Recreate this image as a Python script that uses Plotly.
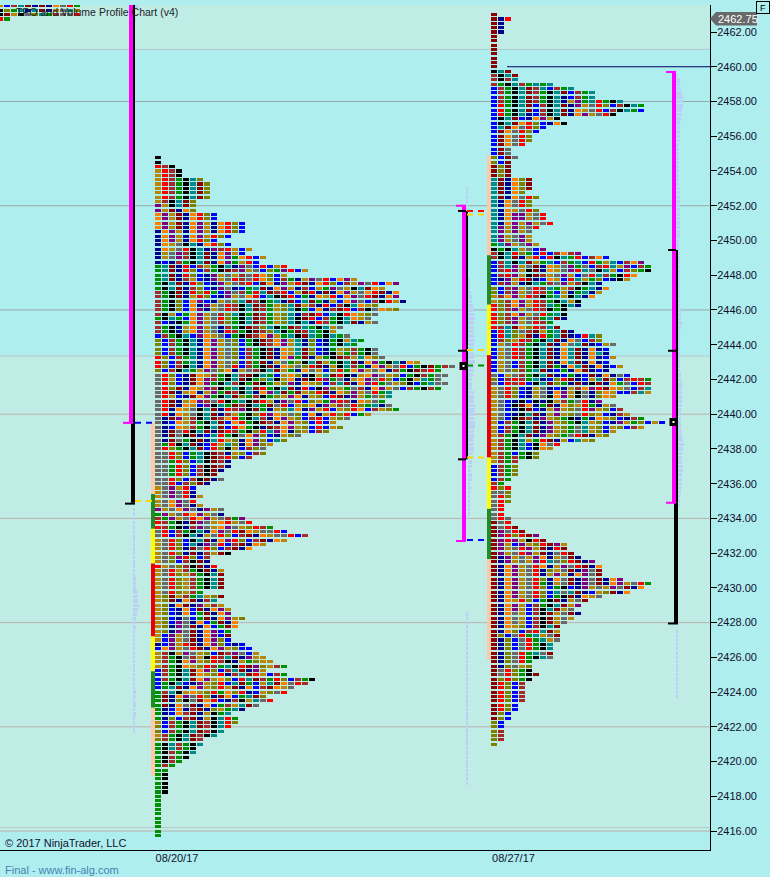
import plotly.graph_objects as go

PALETTE = {"K": "#000000", "R": "#FF0000", "B": "#0000FF", "N": "#00008B", "D": "#8B0000",
           "A": "#A52A2A", "G": "#008F00", "T": "#008B8B", "O": "#B8860B", "L": "#808000",
           "P": "#800080", "Y": "#696969", "F": "#FF8000"}

# ---- profile of 08/20/17: cells per price row, from 2454.75 downwards in 0.25 steps
P1_TOP = 2454.75
P1_COUNTS = [1,1,3,4,4,7,8,8,8,8,6,6,6,9,9,13,13,13,11,9,11,14,13,16,15,19,22,19,29,35,33,35,35,36,32,35,32,31,32,27,26,28,30,29,32,32,33,38,43,41,42,41,42,41,34,34,33,34,35,31,28,26,27,25,21,19,17,16,16,14,11,11,10,9,10,8,6,
             6,7,6,7,10,10,13,14,17,19,22,19,16,14,11,8,8,9,10,10,10,10,10,7,10,9,10,11,11,13,12,12,11,11,11,13,14,15,16,17,19,16,19,23,22,20,19,16,17,15,13,11,12,12,11,10,9,7,7,6,6,5,4,3,2,2,2,2,2,2,1,1,1,1,1,1,1,1,1,1]
P1_ROWS = """K|K|RAK|ORAK|ORAK|ORAGKTL|ORAGKTDL|ORAGKTDL|ORAGKTDL|ORAGKTDL|OAKTDL|POKTDL|PODNFL|FPODNFRLB|FPODNFRLB
FPODNFPONFRLB|FPODNFPONFRLB|NFPONFPONFRLB|NFPONFPORLB|NFPONFRLB|NFOYKTNFRLB|NFOYRKTNPAROBO|NOYPAKTDNFPOB
NOYPAKTDNFPGFRBO|NBNAGKTDNFPGORB|GTDNRBAOGKTNPYBRBOR|GTDNRLBAGKDAPOYBLGPRBO|GTDNRLBNPOYOAYRFLBO
GTDNAOBNPOYRAYRFLBAGNOPYRBFPO|GKTDNRLBNPOYARBDFNPORDNFRLBAOPYRBFPOYNOL|GKTDNALBNPYNBGTDNFPONABOGPYOKTDFO
AGKDNRLRGBPYAGRTDARBODRNDNFPOYFRDNFOYLYL|AGKDNORLBNPOYFRBTKDRBGNFORBFPYRDNFPOYRFO|AGKLBFPBNOYLTDAKGTNDBTDGNOBFPYBAKRONFPOYO
AGKLBFNPOYRAKTDAGOLTDOANRBAKTFOLNO|AGKLBFPNOYRAKTDAGOLTKGBFNADRBAKYFOLFLYOY|AKOBGFPOYALTKGDAGOLTNADRBTKRFOLY|GKTGBFPOYRLGKTDAGOLTKDRBAGKTFOY
ABNKGFPOYALGKTDAGOLTKTNRAGKTDNOY|AGKNOFPOYNAGKDALTKGDATGKTOY|AGKNOFPOYNRAGKDALTKGDATGKO|BAGKTBPFOYBGKDAFPOGTKDTGKTGY|LBAGKTNFPOYLBGKDAFPOTNLBNGKOTG
LBAGKTNFPOYLBGKDAFPOTNLBNGKTG|LBAGKTNFPOYLBAGKDNFOTDLBNGOLAGKY|LBAGKTNFPOYLBAGKDNFOTDLBNKOGAGKY|RLBAGTNFPOYLBAGKDNFPGDNOGKDAOTFLY|RLBAGTNFPOYLBAGDNOYGLKTDOGKTDNFPGKTNFOKAGKY
RLBAKTNFPOYRBAGKDNFOYLRDNOKTAGNFPOYRBGKDGAY|LBAKTGOPYLFNOYAKTDOGNFYOBLRGFPOYFNAGKDARG|YRLBNDFOAGKTADKTGBOFLNKOTDRKNOFPYOLBGKAGY|YROBNDFPAGKTDKGLTKOFNDKRPGYNOFPYRLBGKOTGY|YRLBNDFPGKTAKGDKGOLPNFOLBATDNFPRGYOLKBGTY
YRLDNFOPAKGTKTDRGKTDNRBKPLOGYANFPOYBAGKAG|YRDNOFNOPGDAKTNFPTDGDOLRDNFLPOYRGT|YROBNDFPGKTDLGAKGLOPFNOLBRDNPOGYLT|YRDNOFPAYRKGTKDRONPYRBLOGPRANFOYG|YRDNFOBPKTGDAKTGDYRBOLFNPOAYRLGTN
YRNFOYKTDNRAPKDGNOLTFNPORBOLRFBAOLG|YRNFOYKTDNAOGKLRPFOYLBFNORLRBGO|YNDPOAKTDAFRGKTANFPOLBARBOLY|YNBFOAGKTDBFRGKDANFPOLBRBOL|YNBFOAGKTDBRFGKNDAFPOLBRBOLY|YNDYRKTDNDRAGKLRTPFNLOBAL
YNDYKDNBTRGKYFPLBNOL|YNDYGKDNTROLNFPLBTL|YGRKTDNBROTLNFPLO|YRLGKTDBRLKOBAL|YYRLBGTKDANOLBAL|YYRLBGTKDARLBAO|YYGRLBTKDANLO|YYGRLBAKDANA|YYGRLBAKDNA|YYGRLBAKDN|YYRLBAKDN|YYRBALDNOA|OYPORBAN|OYPYRN
OYPYRN|OYFPYRN|OYFPYN|POYFPYN|GPOYRFPOYN|AGPOYRFPOY|RAGKNDPYOFROY|RAGKNAPYOFPYOL|YRBAGKTNFPYRDFOY|YRBAKTNOYRLBADNFOY
OYRLBKTDNFPRLBADNFOYOYL|OYRLBTNPYRBADNFOYLY|OYRLNDYRLBADNFOY|OYRLNDNAODKRNF|OYLPRLBAKDN|OYLBAKDN|ROYLAKDN|OYROAGKDN|OYRLOAGKTD|OYRLOAGKTD
OYRLOAGKTD|OYRLOAGKTD|OYRLOAGTDD|OLDOAGT|OLDNFDNATG|OLNFDNPOA|OLBNFBDNFP|OLBNFBGDNFP|OLBNYBGDNFP|OLBPYNFBGDNFP|OLNPYDNFBGDF|OLNPYDNFPBGD
OBPOYDNFPBD|OBPOYDNFPLB|NBPORDNFPLB|BFPOYRDNFPOLB|OAKOPYOLBDAPYB|OAGKYAOKRATDNPO|OAGKFPOLRAKNOGLO|OAGKFOLRAGTKRDPL|BAGKTDFPLBATDNPOAL|BAGKTDFOLRNATDRO
BAGKTDFPOFLBRTDAGRL|BGKTBNPOLRBTDGBOTDFYRAL|BGTDNFPOLRODNFBADFOYBR|GATKOFOLRGFLRNBOLYRB|GDNFPYRLNDFBGTDLOYR|GDNLKYDFRBNAKOTYRL|GDNFYDNFBGAOTDYRL|GNBFNADNLOGTNYL
GNBFADNOKGTOY|GNLBADNOKTR|OBAGKTDAKTRL|LBAGKTDAKTRO|LBAGKTDAKTO|OAGKTDAKTO|LAGKTDAKT|GKTAGKT|GKTAGKT|GKAGKT|GKAGKT|GKAGK|GAGK|GGK|GK|GK|GK|GK|GK|GK|G|G|G|G|G|G|G|G|G|G"""

# ---- profile of 08/27/17
P2_TOP = 2463.0
P2_COUNTS = [1,3,2,2,2,1,1,1,1,1,1,1,1,3,4,4,9,12,15,15,19,22,22,18,10,11,8,7,6,6,5,3,3,4,3,3,3,3,6,6,6,5,7,6,6,7,8,8,9,7,6,6,6,7,8,13,17,22,23,23,21,20,16,17,16,15,13,13,11,11,11,9,10,12,16,16,18,17,17,18,17,19,17,20,23,
             23,23,23,18,16,18,19,20,22,25,22,18,17,15,10,9,7,7,4,4,4,4,3,2,3,3,3,3,2,2,2,3,3,4,5,7,8,11,11,12,13,15,16,16,16,19,23,22,20,16,14,13,12,13,12,11,10,10,10,10,9,9,9,9,6,6,6,7,6,5,5,5,5,5,4,4,3,3,2,2,2,2,2,1]
P2_ROWS = """D|DNR|DN|DN|DN|D|D|D|D|D|D|D|D|KTD|AKTD|AKAT|AGKTAGTGT|BAGKTDATBAGT|BAGKTDAGKTDBAGT|BAGKTDAGKTNBAGT
BAGKTDAGKTNOPGTRGKT|BRGKTDBAKTDNPOYRLBAKTG|BRGKTDBAKTDNFOYRBAKTG|BRGKTNBAKTDNFPOYRK|BKTDBNFPOK|BKTDFRLBNFK|BTDFYRLB|BDFYRLB|BDFYRL|BDFYRL|BDFYR|BDY|BDY|LBDY|LBD|DLD|DLD|DLD|TDNFLD|TDNFLD|TDNFLD|TDNFL
TDNFYRL|TNFYRL|TNFYRL|TNFOYRL|TNFPPOYR|TNFPPOYR|TNFPOPOYR|TPOPOYR|TPOPOY|TPOYPO|TPOYPO|GTPOYPO|KGKTOYBP|AKTRLGBRBAFAP|AKTDNORBRKTGRBAFBP
BATKTDOGTBAGTBRGOTBAFP|BATPOYDNFOYPGYBARTOPBAGOP|BARPOKDNFOYPRTYKTOBALGKP|BARPOKDAOYPOBYRTAGKRFP|BNPORDNBFOBRTOGLBNKOPF|BAPONKTGAYPOAKTNKFOP|LBAPOYRATGOAKGTNFP|LBAPOYRAGBONGTNOP
OAFPORAKGTOKTNFP|OLAFPORAGKTOKTNP|RLAFPORATGKTNO|RLAPOYRAKGKTNO|RLAFPOYRGTKTDNO|RLAPOYAGTDN|RLAPOYRAGTDN|RATDFLRATDN|BRTLYADOGTDN|BRTLODNRGTDN|BALORAGKTDNFY|BOYRAGKTDNFYTDN
BOYRAGKTDNFTDNFN|BOYRAGKTDNFTDNFTNB|BOYRAGKTDNFTDNFN|BOYBAGKTDNFTDNFN|BOYBAGKTDGNFTDNFN|BOYLAGTDNBGNFDNBN|YBOYAGKTDNBGNBDNFN|LBARAGTNBLRDNBOTD
YBRARBKTDLGNDNKDNFG|OYRLBNOYNBNOAFPRDFOYBAT|OYRLBNOYNFPOKYNLFOBBAT|OYRLBNOYKFPOKYNLFOBBAT|OYBNKBKNKOAGYRNPTBA|OYBKDFNGDNFLORGN|OYBNKDBNOPOLYRPOLBAG|OYBNKTDNOPOLYRLOBNA
OYBKDANPOLGKNGNFOLBNAG|OBAGKTDNPOLGKTOLBNPOGLB|OBAGKTDNPOLGYTOLBOLBAOLGKA|OBAGKTDNPOLGYTOLBOLBAO|OAGKTDNPOLGYRDNOLB|OAGKTOGRDNOBTOLB|OAGKTBKFYRTOL|OAGKTBKFOL|OAGBGKLTO|OAGAGKL|OAGAGKL|BAGL|BAGL|BAGL|BAGL|AGL|RL|YYL|YRL|YRL|YRL|YR|YR|YR
DYR|DYR|DPYR|DPRLR|DPRPOKR|DPOBPOLR|DPOYRPODNR|DPOYRPODNYR|DNPOYOPFNOY|DNPOYOPRTYLR|DNFPOYRFNOPYR|DNFPOYRNLOYDNPY|DNFPOYRNOPONFPY|DNFPOYRLNFYDNPY|DNFPOYRGNOYDNPY
DNFPOYRLBGKBNPOYOPY|DNFPOYRLBTYTDNBOLDNFOPY|DNFPOYRLBGKDNFOYDNPOY|DNFORLBGKDNOYDNOY|DNFPOBAGKTDOPY|DNFPOBAKTDOY|DNFYOBAKDOY|DNFYOBAKDOYO|DNFYOBAKDOY|DNFOLBAKTDOY|DNFLBARTDOY|DLBYRGTOY|DNLBYRGTOY
DNLBYRGKTY|DNLBYRGKTY|DNLYRGTY|DNLYRGKTY|DNLYRGKTY|DNLYOLGKT|DYRLGK|DYRLGK|DLRLGK|DRLBAGK|DRLBAG|DRLBA|DRLBA|DRLBA|DRLBA|DRLBA|DLBA|DLBA|LBA|LBA|LA|LA|LA|LA|LA|A"""

# ---- small clipped profile at the top-left corner
P0_TOP = 2463.5
P0_ROWS = ["OBATDNDNFYRG", "KLGTNTDNOYTL", "KDOKYLTGAYYR", "RG"]

# ---- session structure (prices)
COLUMN1 = [(2439.5, 2435.4, "#FFC8A8"), (2435.4, 2433.4, "#228B22"), (2433.4, 2431.4, "#FFFF00"), (2431.4, 2427.2, "#E60000"),
           (2427.2, 2425.2, "#FFFF00"), (2425.2, 2423.1, "#228B22"), (2423.1, 2419.2, "#FFC8A8")]
COLUMN2 = [(2454.9, 2449.15, "#FFC8A8"), (2449.15, 2446.3, "#228B22"), (2446.3, 2443.4, "#FFFF00"), (2443.4, 2437.5, "#E60000"),
           (2437.5, 2434.55, "#FFFF00"), (2434.55, 2431.65, "#228B22"), (2431.65, 2425.9, "#FFC8A8")]
PALE_GRID = [2461.0, 2443.35, 2416.2]
GRAY_GRID = [2458.0, 2452.0, 2446.0]
ROSY_GRID = [2440.0, 2434.0, 2428.0, 2422.0, 2416.0]
TICKS = list(range(2416, 2463, 2))
DATES = ["08/20/17", "08/27/17"]

# pale volume histograms: (start, top price, widths in columns per 0.25 row)
HIST = [
    (133, 2463.5, [.9,.45,.4,.4,.35,.3,.3,.3,.25,.25]),
    (133, 2434.5, [.15,.15,.15,.15,.15,.15,.15,.15,.15,.15,.15,.15,.2,.3,.3,.3,.4,.4,.4,.6,.7,.7,.8,.7,.5,.45,.4,.4,.35,.3,.3,.25,.25,.15,.15,.15,.15,.15,.15,.15,.15,.3,.4,.4,.3,.4,.3,.4,.3,.3,.2,.15]),
    (466, 2453.0, [.3,.3,.3,.3,.3,.3,.3,.3,.3,.3,.3,.3]),
    (468, 2447.75, [.2,.3,.3,.4,.5,.6,.7,.8,.9,1.0,.8,.9,.9,.9,1.0,.8,.7,.9,.8,1.0,.9,.9,.7,.6,.6,.6,.8,.9,.9,1.0,1.0,.8,.9,1.0,1.0,.8,.8,.7,.8,.8,.7,.7,.6,.5,.4,.5,.5,.3,.4,.3,.3,.2,.2,.2,.2]),
    (466, 2428.5, [.25,.25,.25,.2,.2,.25,.25,.25,.2,.2,.2,.25,.25,.25,.2,.2,.2,.2,.2,.2,.2,.2,.2,.2,.2,.2,.2,.2,.2,.2,.2,.2,.2,.2,.2,.2,.2,.2,.2,.2]),
    (676, 2459.5, [.3,.5,.6,.7,.8,1.0,1.0,1.0,.9,.8,.7,.6,.6,.5,.5,.5,.4,.4,.4,.4,.4,.4,.4,.4,.4,.4,.5,.5,.5,.5,.5,.5,.5,.5,.5,.5,.5,.5,.4,.4,.4]),
    (678, 2449.25, [.3,.3,.3,.3,.3,.3,.3,.3,.3,.3,.3,.3,.3,.4,.4,.4,.5,.4,.3,.3,.3,.3,.3,.3,.3,.3,.3,.3,.4,.4,.5,.5,.5,.6,.6,.5,.4,.4,.4,.4,.4,.5,.6,.7,.8,.7,.6,.5,.6,.7,.7,.6,.5,.5,.4,.4,.3,.3,.2]),
    (676, 2427.5, [.25,.25,.25,.25,.25,.25,.25,.25,.25,.25,.25,.25,.25,.25,.25,.25]),
]

PX = 7.0  # plot pixels per column unit
STEP = 0.25


def col(px):
    return px / PX


def px_x(px):
    return px / 710.0


def px_y(py):
    return 1 - (py - 5.0) / 845.0


def parse(text):
    return [r.strip() for chunk in text.split("\n") for r in chunk.split("|") if r.strip()]


xs, ys, bases, colors = [], [], [], []


def add_profile(top, rows, counts, start_px):
    for i, n in enumerate(counts):
        row = rows[i] if i < len(rows) else "Y"
        for j in range(n):
            xs.append(6.0 / PX)
            ys.append(top - i * STEP)
            bases.append(col(start_px + j * PX))
            colors.append(PALETTE[row[j % len(row)]])


add_profile(P1_TOP, parse(P1_ROWS), P1_COUNTS, 155)
add_profile(P2_TOP, parse(P2_ROWS), P2_COUNTS, 491)
add_profile(P0_TOP, P0_ROWS, [len(r) for r in P0_ROWS], -3)

fig = go.Figure()

# pale histograms
hx, hy, hb = [], [], []
for start, top, widths in HIST:
    for i, w in enumerate(widths):
        hx.append(w)
        hy.append(top - i * STEP)
        hb.append(col(start))
fig.add_trace(go.Bar(x=hx, y=hy, base=hb, orientation="h", width=0.2, marker=dict(color="#BCD0F6", line_width=0), hoverinfo="skip"))

# TPO cells
fig.add_trace(go.Bar(x=xs, y=ys, base=bases, orientation="h", width=0.175, marker=dict(color=colors, line_width=0), hoverinfo="skip"))


def seg(x0, x1, y0, y1, color, w, dash=None):
    fig.add_trace(go.Scatter(x=[col(x0), col(x1)], y=[y0, y1], mode="lines", hoverinfo="skip",
                             line=dict(color=color, width=w, dash=dash)))


for segs, xc in ((COLUMN1, 153), (COLUMN2, 489)):
    for hi, lo, c in segs:
        seg(xc, xc, hi, lo, c, 4)

# session 1 side bars
seg(134, 134, 2463.55, 2439.5, "#000000", 2)
seg(133, 133, 2439.5, 2434.9, "#000000", 4)
seg(131, 131, 2463.55, 2439.5, "#FF00FF", 4)
seg(123, 133, 2439.5, 2439.5, "#FF00FF", 2)
seg(125, 135, 2434.85, 2434.85, "#000000", 2)
seg(135, 155, 2439.5, 2439.5, "#0000FF", 2, "6px,5px")
seg(135, 155, 2435.0, 2435.0, "#FFD800", 2, "6px,5px")

# session 2 left side bars
seg(467, 467, 2451.7, 2437.4, "#000000", 2)
seg(464, 464, 2452.0, 2432.7, "#FF00FF", 4)
for p in (2452.0, 2432.7):
    seg(456, 466, p, p, "#FF00FF", 2)
for p in (2451.7, 2443.65, 2437.4):
    seg(458, 466, p, p, "#000000", 2)
seg(467, 488, 2451.7, 2451.7, "#FF0000", 2, "6px,5px")
seg(467, 488, 2451.5, 2451.5, "#FFD800", 2, "6px,5px")
seg(467, 488, 2443.7, 2443.7, "#FFD800", 2, "6px,5px")
seg(467, 488, 2442.8, 2442.8, "#008F00", 2, "6px,5px")
seg(467, 488, 2437.5, 2437.5, "#FFD800", 2, "6px,5px")
seg(467, 488, 2432.75, 2432.75, "#0000FF", 2, "6px,5px")

# session 2 right side bars
seg(677, 677, 2449.45, 2434.9, "#000000", 2)
seg(676, 676, 2434.9, 2427.95, "#000000", 4)
seg(674, 674, 2459.7, 2434.9, "#FF00FF", 4)
for p in (2459.7, 2434.9):
    seg(666, 676, p, p, "#FF00FF", 2)
for p in (2449.45, 2443.65):
    seg(668, 676, p, p, "#000000", 2)
seg(668, 678, 2427.95, 2427.95, "#000000", 2)
seg(507, 710, 2460.0, 2460.0, "#000060", 1)

fig.add_trace(go.Scatter(x=[col(463.5), col(673.5)], y=[2442.77, 2439.55], mode="markers", hoverinfo="skip",
                         marker=dict(symbol="square", size=5, color="#FFFFFF", line=dict(color="#000000", width=3))))

shapes = [dict(type="rect", xref="paper", yref="y", x0=0, x1=1, y0=2461.0, y1=2463.6, fillcolor="#BFEDE6", line_width=0, layer="below"),
          dict(type="rect", xref="paper", yref="y", x0=0, x1=1, y0=2416.05, y1=2443.35, fillcolor="#BFEDE6", line_width=0, layer="below")]
for vals, c in ((PALE_GRID, "#B5C8CC"), (GRAY_GRID, "#9AA8AA"), (ROSY_GRID, "#BCB0AE")):
    for v in vals:
        shapes.append(dict(type="line", xref="paper", yref="y", x0=0, x1=1, y0=v, y1=v, line=dict(color=c, width=1), layer="below"))
# price tag
tag = [(710, 18.7), (716, 12), (757, 12), (757, 25.5), (716, 25.5)]
path = "M " + " L ".join(f"{px_x(a):.5f} {px_y(b):.5f}" for a, b in tag) + " Z"
shapes.append(dict(type="path", xref="paper", yref="paper", path=path, fillcolor="#696969", line_width=0))

FONT = "Liberation Sans"
ann = [
    dict(xref="paper", yref="paper", x=px_x(14), y=px_y(12), text="TPO and Volume Profile Chart (v4)", showarrow=False, xanchor="left", yanchor="middle", font=dict(family=FONT, size=10.5, color="#222222")),
    dict(xref="paper", yref="paper", x=px_x(3), y=px_y(843), text="© 2017 NinjaTrader, LLC", showarrow=False, xanchor="left", yanchor="middle", font=dict(family=FONT, size=11, color="#101030")),
    dict(xref="paper", yref="paper", x=px_x(3), y=px_y(870), text="Final - www.fin-alg.com", showarrow=False, xanchor="left", yanchor="middle", font=dict(family=FONT, size=11, color="#4682B4")),
    dict(xref="paper", yref="paper", x=px_x(737.5), y=px_y(19), text="2462.75", showarrow=False, xanchor="center", yanchor="middle", font=dict(family=FONT, size=11, color="#FFFFFF")),
    dict(xref="paper", yref="paper", x=px_x(762.5), y=px_y(7.5), text="F", showarrow=False, xanchor="center", yanchor="middle", bordercolor="#000000", borderwidth=1, borderpad=0, width=12, height=11, font=dict(family=FONT, size=9, color="#000000")),
]

fig.update_layout(
    width=770, height=877, margin=dict(l=0, r=60, t=5, b=27, pad=0),
    paper_bgcolor="#AFEEEE", plot_bgcolor="#AFEEEE", showlegend=False, barmode="overlay", bargap=0,
    shapes=shapes, annotations=ann,
    xaxis=dict(range=[0, 710 / PX], tickmode="array", tickvals=[col(177), col(513.5)], ticktext=DATES, ticks="", showgrid=False, zeroline=False,
               showline=True, linecolor="#000000", linewidth=1, tickfont=dict(family=FONT, size=11, color="#101030"), ticklen=0, ticklabelstandoff=-2),
    yaxis=dict(range=[2414.91, 2463.555], side="right", tickmode="array", tickvals=TICKS, ticktext=[f"{t:.2f}" for t in TICKS], ticks="outside", ticklen=6, tickcolor="#000000",
               showgrid=False, zeroline=False, showline=True, linecolor="#000000", linewidth=1, tickfont=dict(family=FONT, size=11, color="#101030"), ticklabelstandoff=-2),
)
fig.write_html("out.html", config={"displayModeBar": False},
               post_script="document.body.style.margin='0';document.body.style.overflow='hidden';")
